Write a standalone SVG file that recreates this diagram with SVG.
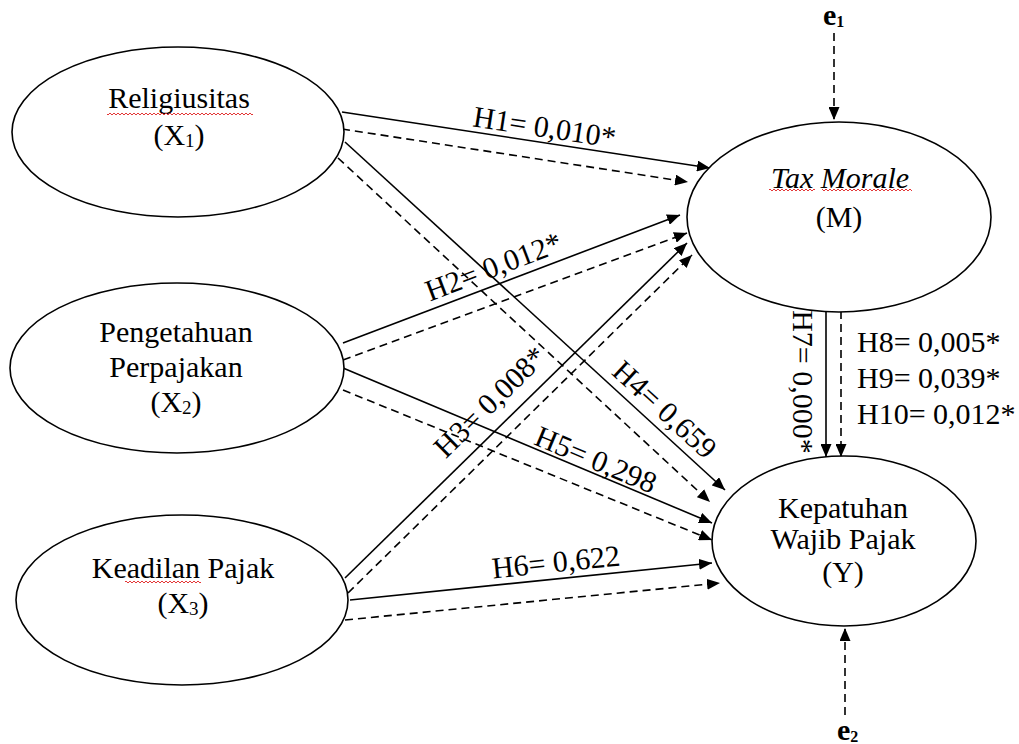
<svg xmlns="http://www.w3.org/2000/svg" width="1019" height="744" viewBox="0 0 1019 744">
<style>
.node{fill:#fff;stroke:#000;stroke-width:1.6}
.t{font-family:"Liberation Serif","Times New Roman",serif;font-size:30px;fill:#000}
.c{text-anchor:middle}
.sol{fill:none;stroke:#000;stroke-width:1.6;marker-end:url(#ah)}
.dash{fill:none;stroke:#000;stroke-width:1.6;stroke-dasharray:8 5;marker-end:url(#ah)}
.e{font-family:"Liberation Serif","Times New Roman",serif;font-weight:bold;font-size:30px;fill:#000}
</style>
<defs>
<marker id="ah" markerUnits="userSpaceOnUse" markerWidth="13" markerHeight="11" refX="13" refY="5.5" orient="auto">
<path d="M0,0 L13,5.5 L0,11 z" fill="#000"/>
</marker>
<pattern id="sq" width="4" height="4" patternUnits="userSpaceOnUse">
<path d="M0,3 L2,1 L4,3" fill="none" stroke="#e02020" stroke-width="0.9"/>
</pattern>
</defs>
<rect width="1019" height="744" fill="#fff"/>

<g id="connectors">
<line class="sol" x1="342" y1="112" x2="710" y2="168"/>
<line class="dash" x1="342" y1="129" x2="688" y2="182"/>
<line class="sol" x1="345" y1="142" x2="725" y2="490"/>
<line class="dash" x1="338" y1="158" x2="710" y2="502"/>
<line class="sol" x1="343" y1="343" x2="680" y2="215"/>
<line class="dash" x1="343" y1="360" x2="687" y2="233"/>
<line class="sol" x1="343" y1="368" x2="712" y2="523"/>
<line class="dash" x1="343" y1="390" x2="712" y2="540"/>
<line class="sol" x1="345" y1="578" x2="687" y2="243"/>
<line class="dash" x1="348" y1="593" x2="692" y2="255"/>
<line class="sol" x1="350" y1="600" x2="712" y2="563"/>
<line class="dash" x1="345" y1="620" x2="720" y2="583"/>
<line class="sol" x1="826" y1="311" x2="826" y2="457"/>
<line class="dash" x1="841" y1="311" x2="841" y2="457"/>
<line class="dash" x1="834" y1="33" x2="834" y2="120"/>
<line class="dash" x1="845" y1="715" x2="845" y2="628"/>
</g>

<g id="edge-labels">
<text class="t c" transform="rotate(8.7 543 137)" x="543" y="137">H1= 0,010*</text>
<text class="t c" transform="rotate(-20.8 497 276)" x="497" y="276">H2= 0,012*</text>
<text class="t c" transform="rotate(-44.4 497 409)" x="497" y="409">H3= 0,008*</text>
<text class="t c" transform="rotate(42.5 658 417)" x="658" y="417">H4= 0,659</text>
<text class="t c" transform="rotate(22.8 592 469)" x="592" y="469">H5= 0,298</text>
<text class="t c" transform="rotate(-5.8 557 572)" x="557" y="572">H6= 0,622</text>
<text class="t c" transform="rotate(90 793 382)" x="793" y="382">H7= 0,000*</text>
<text class="t" x="857" y="352">H8= 0,005*</text>
<text class="t" x="857" y="388">H9= 0,039*</text>
<text class="t" x="857" y="424">H10= 0,012*</text>
</g>

<g id="node-x1">
<ellipse class="node" cx="178" cy="132" rx="166" ry="85"/>
<text class="t c" x="179" y="108">Religiusitas</text>
<text class="t c" x="179" y="145">(X<tspan font-size="19" dy="2">1</tspan><tspan dy="-2">)</tspan></text>
<rect x="107" y="112" width="146" height="4" fill="url(#sq)"/>
</g>

<g id="node-x2">
<ellipse class="node" cx="177" cy="368" rx="167" ry="85"/>
<text class="t c" x="176" y="342">Pengetahuan</text>
<text class="t c" x="176" y="377">Perpajakan</text>
<text class="t c" x="176" y="412">(X<tspan font-size="19" dy="2">2</tspan><tspan dy="-2">)</tspan></text>
</g>

<g id="node-x3">
<ellipse class="node" cx="182" cy="600" rx="166" ry="85"/>
<text class="t c" x="183" y="578">Keadilan Pajak</text>
<text class="t c" x="183" y="613">(X<tspan font-size="19" dy="2">3</tspan><tspan dy="-2">)</tspan></text>
<rect x="125" y="580" width="76" height="4" fill="url(#sq)"/>
</g>

<g id="node-m">
<ellipse class="node" cx="839" cy="217" rx="152" ry="95"/>
<text class="t c" x="840" y="188" font-style="italic">Tax Morale</text>
<text class="t c" x="839" y="227">(M)</text>
<rect x="769" y="188" width="46" height="4" fill="url(#sq)"/>
<rect x="822" y="188" width="90" height="4" fill="url(#sq)"/>
</g>

<g id="node-y">
<ellipse class="node" cx="844" cy="541" rx="132" ry="85"/>
<text class="t c" x="843" y="518">Kepatuhan</text>
<text class="t c" x="843" y="549">Wajib Pajak</text>
<text class="t c" x="843" y="582">(Y)</text>
</g>

<g id="node-e1">
<text class="e" x="823" y="25">e<tspan font-size="16" dy="2">1</tspan></text>
</g>
<g id="node-e2">
<text class="e" x="837" y="740">e<tspan font-size="16" dy="2">2</tspan></text>
</g>
</svg>
